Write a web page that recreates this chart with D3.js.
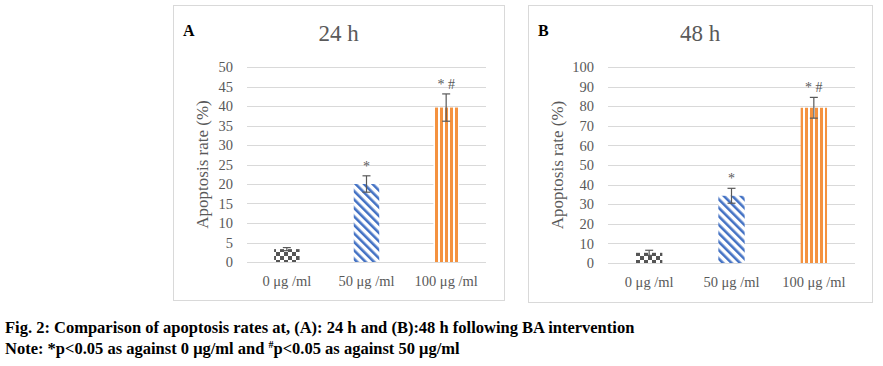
<!DOCTYPE html>
<html>
<head>
<meta charset="utf-8">
<script src="https://cdn.jsdelivr.net/npm/d3@7"></script>
<style>
  body { margin: 0; background: #fff; }
  text { font-family: "Liberation Serif", "Times New Roman", serif; }
</style>
</head>
<body>
<script>
// chart data
var categories = ["0 \u03bcg /ml", "50 \u03bcg /ml", "100 \u03bcg /ml"];
var rates24 = [3.3, 20, 39.6];
var errors24 = [0.4, 2.1, 3.5];
var ticks24 = [0, 5, 10, 15, 20, 25, 30, 35, 40, 45, 50];
var rates48 = [5.2, 34.3, 79.2];
var errors48 = [1.3, 3.8, 5.3];
var ticks48 = [0, 10, 20, 30, 40, 50, 60, 70, 80, 90, 100];
var marks = ["", "*", "* #"];

var w = 883, h = 366;
var grey = "#595959";

var svg = d3.select("body").append("svg")
    .attr("width", w)
    .attr("height", h);

// fill patterns for the three bars
var defs = svg.append("defs");

var checker = defs.append("pattern")
    .attr("id", "checker")
    .attr("patternUnits", "userSpaceOnUse")
    .attr("width", 8).attr("height", 8);
checker.append("rect").attr("width", 8).attr("height", 8).attr("fill", "#fff");
checker.append("rect").attr("width", 4).attr("height", 4).attr("fill", "#555");
checker.append("rect").attr("x", 4).attr("y", 4).attr("width", 4).attr("height", 4).attr("fill", "#555");

var diag = defs.append("pattern")
    .attr("id", "diag")
    .attr("patternUnits", "userSpaceOnUse")
    .attr("width", 6).attr("height", 6)
    .attr("patternTransform", "rotate(-45)");
diag.append("rect").attr("width", 6).attr("height", 6).attr("fill", "#fff");
diag.append("rect").attr("width", 2.6).attr("height", 6).attr("fill", "#4472c4");

var vert = defs.append("pattern")
    .attr("id", "vert")
    .attr("patternUnits", "userSpaceOnUse")
    .attr("width", 5).attr("height", 5);
vert.append("rect").attr("width", 5).attr("height", 5).attr("fill", "#fff");
vert.append("rect").attr("width", 3).attr("height", 5).attr("fill", "#f4923f");

var fills = ["url(#checker)", "url(#diag)", "url(#vert)"];

function drawPanel(opt) {
    var g = svg.append("g");

    // panel frame
    g.append("rect")
        .attr("x", opt.left + 0.5).attr("y", opt.top + 0.5)
        .attr("width", opt.width).attr("height", opt.height)
        .attr("fill", "#fff")
        .attr("stroke", "#d9d9d9");

    g.append("text")
        .attr("x", opt.left + 10).attr("y", opt.top + 31)
        .attr("font-size", 16).attr("font-weight", "bold")
        .attr("fill", "#000")
        .text(opt.letter);

    g.append("text")
        .attr("x", opt.left + opt.width / 2).attr("y", opt.top + 36)
        .attr("text-anchor", "middle")
        .attr("font-size", 23).attr("fill", grey)
        .text(opt.title);

    var x = d3.scaleBand()
        .domain(categories)
        .range([opt.x0, opt.x1])
        .paddingInner(0.68)
        .paddingOuter(0.34);

    var y = d3.scaleLinear()
        .domain([0, opt.max])
        .range([opt.y0, opt.y1]);

    // gridlines
    g.selectAll(".grid")
        .data(opt.ticks)
        .enter().append("line")
        .attr("x1", opt.x0).attr("x2", opt.x1)
        .attr("y1", function(d) { return Math.round(y(d)) + 0.5; })
        .attr("y2", function(d) { return Math.round(y(d)) + 0.5; })
        .attr("stroke", "#d9d9d9")
        .attr("stroke-width", 1);

    var yAxis = g.append("g")
        .attr("transform", "translate(" + (opt.x0 - 9) + ",0)")
        .call(d3.axisLeft(y).tickValues(opt.ticks).tickSize(0).tickPadding(5));
    yAxis.select(".domain").remove();
    yAxis.selectAll("text")
        .attr("font-size", 14.5)
        .attr("fill", grey);

    var xAxis = g.append("g")
        .attr("transform", "translate(0," + opt.y0 + ")")
        .call(d3.axisBottom(x).tickSize(0).tickPadding(14));
    xAxis.select(".domain").remove();
    xAxis.selectAll("text")
        .attr("font-size", 14.5)
        .attr("fill", grey);

    g.append("text")
        .attr("transform", "translate(" + opt.titleX + "," + ((opt.y0 + opt.y1) / 2) + ") rotate(-90)")
        .attr("text-anchor", "middle")
        .attr("font-size", 17).attr("fill", grey)
        .text("Apoptosis rate (%)");

    // bars
    g.selectAll(".bar")
        .data(opt.values)
        .enter().append("rect")
        .attr("x", function(d, i) { return x(categories[i]); })
        .attr("y", function(d) { return y(d); })
        .attr("width", x.bandwidth())
        .attr("height", function(d) { return opt.y0 - y(d); })
        .attr("fill", function(d, i) { return fills[i]; });

    // error bars
    var err = g.selectAll(".err")
        .data(opt.values)
        .enter().append("g")
        .attr("stroke", grey)
        .attr("stroke-width", 1.2);
    err.append("line")
        .attr("x1", function(d, i) { return x(categories[i]) + x.bandwidth() / 2; })
        .attr("x2", function(d, i) { return x(categories[i]) + x.bandwidth() / 2; })
        .attr("y1", function(d, i) { return y(d + opt.errors[i]); })
        .attr("y2", function(d, i) { return y(d - opt.errors[i]); });
    err.append("line")
        .attr("x1", function(d, i) { return x(categories[i]) + x.bandwidth() / 2 - 4; })
        .attr("x2", function(d, i) { return x(categories[i]) + x.bandwidth() / 2 + 4; })
        .attr("y1", function(d, i) { return y(d + opt.errors[i]); })
        .attr("y2", function(d, i) { return y(d + opt.errors[i]); });
    err.append("line")
        .attr("x1", function(d, i) { return x(categories[i]) + x.bandwidth() / 2 - 4; })
        .attr("x2", function(d, i) { return x(categories[i]) + x.bandwidth() / 2 + 4; })
        .attr("y1", function(d, i) { return y(d - opt.errors[i]); })
        .attr("y2", function(d, i) { return y(d - opt.errors[i]); });

    // significance marks
    g.selectAll(".mark")
        .data(opt.values)
        .enter().append("text")
        .attr("x", function(d, i) { return x(categories[i]) + x.bandwidth() / 2; })
        .attr("y", function(d, i) { return y(d + opt.errors[i]) - 5; })
        .attr("text-anchor", "middle")
        .attr("font-size", 14).attr("fill", grey)
        .text(function(d, i) { return marks[i]; });
}

drawPanel({
    left: 173, top: 5, width: 331, height: 295,
    letter: "A", title: "24 h",
    x0: 247, x1: 486, y0: 262, y1: 67,
    max: 50, ticks: ticks24, titleX: 208,
    values: rates24, errors: errors24
});

drawPanel({
    left: 528, top: 5, width: 344, height: 297,
    letter: "B", title: "48 h",
    x0: 608, x1: 855, y0: 263, y1: 67,
    max: 100, ticks: ticks48, titleX: 563,
    values: rates48, errors: errors48
});

// caption
svg.append("text")
    .attr("x", 5).attr("y", 333)
    .attr("font-size", 16.5).attr("font-weight", "bold")
    .attr("fill", "#000")
    .text("Fig. 2: Comparison of apoptosis rates at, (A): 24 h and (B):48 h following BA intervention");

var note = svg.append("text")
    .attr("x", 5).attr("y", 354)
    .attr("font-size", 16.5).attr("font-weight", "bold")
    .attr("fill", "#000");
note.append("tspan").text("Note: *p<0.05 as against 0 \u03bcg/ml and ");
note.append("tspan").attr("font-size", 10).attr("dy", -6).text("#");
note.append("tspan").attr("dy", 6).text("p<0.05 as against 50 \u03bcg/ml");
</script>
</body>
</html>
